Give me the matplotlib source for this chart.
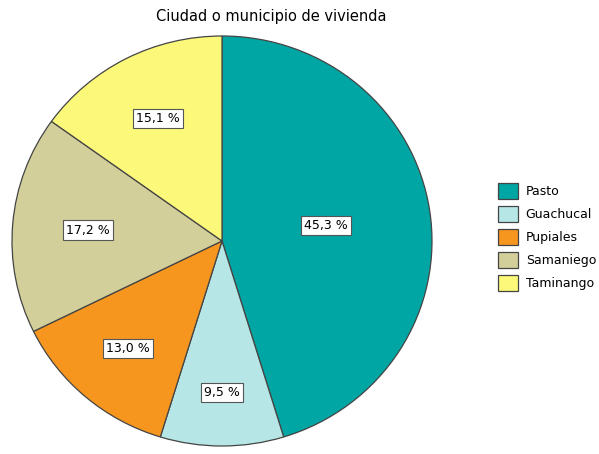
import numpy as np
import matplotlib.pyplot as plt

plt.rcParams['font.family'] = ['DejaVu Sans']

# Data
municipios = ['Pasto', 'Guachucal', 'Pupiales', 'Samaniego', 'Taminango']
porcentajes = [45.3, 9.5, 13.0, 17.2, 15.1]
colores = ['#00a6a4', '#b6e6e6', '#f7961e', '#d3cf9a', '#fbf87a']
label_radius = [0.5, 0.74, 0.69, 0.64, 0.67]

fig = plt.figure(figsize=(5.99, 4.54), dpi=100)
ax = fig.add_axes([12 / 599, 8 / 454, 420 / 599, 410 / 454])

wedges, _ = ax.pie(porcentajes, colors=colores, startangle=90, counterclock=False,
                   wedgeprops={'edgecolor': '#444444', 'linewidth': 0.9})
ax.set_aspect('auto')
ax.set_xlim(-1, 1)
ax.set_ylim(-1, 1)

# Percentage labels in boxes
total = sum(porcentajes)
start = 90.0
for val, r in zip(porcentajes, label_radius):
    sweep = val / total * 360
    mid = np.deg2rad(start - sweep / 2)
    start -= sweep
    txt = f'{val:.1f} %'.replace('.', ',')
    ax.text(r * np.cos(mid), r * np.sin(mid), txt, ha='center', va='center', fontsize=9,
            bbox=dict(boxstyle='square,pad=0.25', facecolor='white',
                      edgecolor='#555555', linewidth=0.8))

fig.text(271 / 599, 1 - 17 / 454, 'Ciudad o municipio de vivienda', ha='center', va='center',
         fontsize=10.5)

fig.legend(wedges, municipios, loc='center left', bbox_to_anchor=(487 / 599, 1 - 237 / 454),
           frameon=False, fontsize=9, handlelength=1.6, handleheight=1.6,
           labelspacing=0.55, handletextpad=0.6)

fig.savefig('out.png', dpi=100)
